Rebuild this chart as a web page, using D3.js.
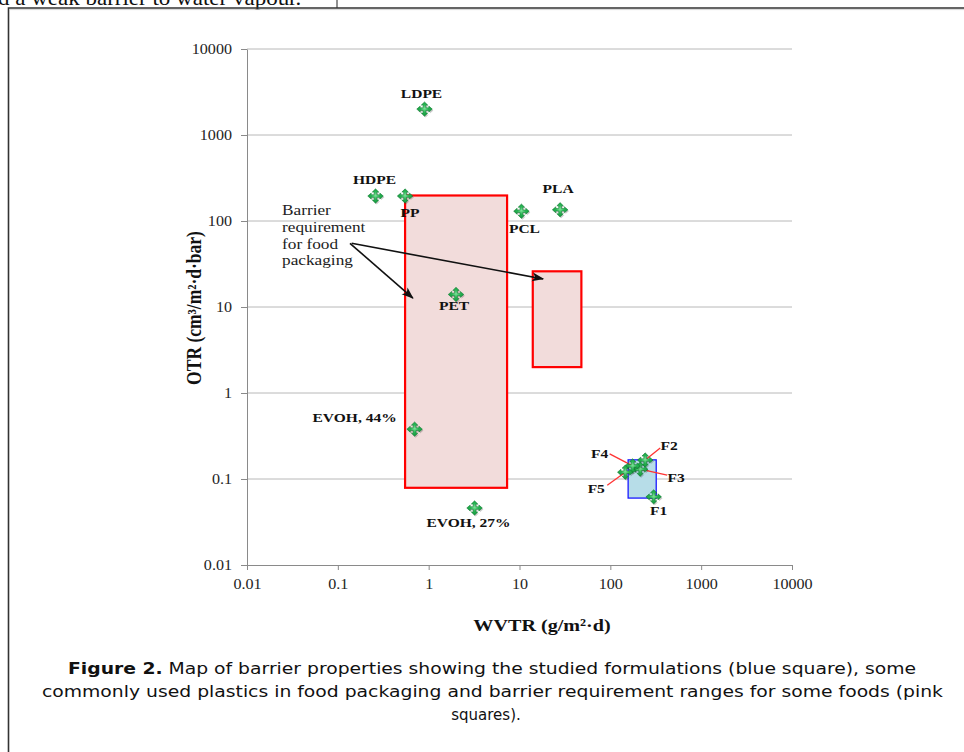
<!DOCTYPE html>
<html>
<head>
<meta charset="utf-8">
<script src="https://cdn.jsdelivr.net/npm/d3@7"></script>
<style>
  html, body { margin: 0; padding: 0; background: #fff; }
  svg { display: block; }
</style>
</head>
<body>
<script>
// ---------- data ----------
const tickValues = [0.01, 0.1, 1, 10, 100, 1000, 10000];
const tickLabels = ["0.01", "0.1", "1", "10", "100", "1000", "10000"];

const materials = ["LDPE", "HDPE", "PP", "PCL", "PLA", "PET", "EVOH, 44%", "EVOH, 27%"];
const materialWVTR = [0.9, 0.26, 0.55, 10.5, 28, 2.0, 0.7, 3.2];
const materialOTR  = [2000, 195, 195, 130, 135, 14, 0.38, 0.046];

const formulations = ["F1", "F2", "F3", "F4", "F5"];
const formWVTR = [300, 242, 213, 176, 146];
const formOTR  = [0.062, 0.166, 0.13, 0.142, 0.12];

// requirement ranges (pink) : [wvtrMin, wvtrMax], [otrMin, otrMax]
const reqNames = ["range A", "range B"];
const reqWVTR = [[0.55, 7.3], [14, 48]];
const reqOTR  = [[0.079, 198], [2.0, 26]];

// studied formulations range (blue)
const formRangeWVTR = [157, 320];
const formRangeOTR  = [0.060, 0.167];

const xTitle = "WVTR (g/m²·d)";
const yTitle = "OTR (cm³/m²·d·bar)";
const noteLines = ["Barrier", "requirement", "for food", "packaging"];
const captionBold = "Figure 2.";
const caption1 = " Map of barrier properties showing the studied formulations (blue square), some";
const caption2 = "commonly used plastics in food packaging and barrier requirement ranges for some foods (pink";
const caption3 = "squares).";
const headerText = "d a weak barrier to water vapour.";

// ---------- layout / style ----------
const W = 964, H = 752;
const SX = 1.15; // horizontal stretch of the original typesetting
const serif = "'Liberation Serif', 'Times New Roman', serif";

// label offsets relative to marker (px): [dx, dy]
const matLabelOff = [[-3, -16], [-1, -17], [5, 16], [3, 17], [-2, -22], [-2, 11], [-60, -12], [-6, 14]];
const formLabelOff = [[5, 13], [24, -15], [36, 8], [-33, -13], [-29, 16]];
// callout line start (relative to label center) for formulations (null = none)
const formLineStart = [null, [-9, 3], [-9, -2], [10, 1], [11, -3]];

// annotation arrow anchors in data units
const noteAnchor = [0.0243, 117];
const arrowFrom = [[0.136, 55], [0.142, 55]];
const arrowTo = [[0.67, 12.7], [18.2, 21.2]];

const svg = d3.select("body").append("svg")
  .attr("width", W).attr("height", H)
  .attr("viewBox", `0 0 ${W} ${H}`);

const x = d3.scaleLog().domain([0.01, 10000]).range([247, 792]);
const y = d3.scaleLog().domain([0.01, 10000]).range([565, 49]);

// defs
const defs = svg.append("defs");
defs.append("marker").attr("id", "arrowBlack")
  .attr("viewBox", "0 -5 12 10").attr("refX", 11).attr("refY", 0)
  .attr("markerWidth", 12).attr("markerHeight", 10).attr("markerUnits", "userSpaceOnUse")
  .attr("orient", "auto")
  .append("path").attr("d", "M0,-4.5 L12,0 L0,4.5 L3,0 Z").attr("fill", "#111");
const grad = defs.append("radialGradient").attr("id", "gGreen").attr("cx", "50%").attr("cy", "45%").attr("r", "60%");
grad.append("stop").attr("offset", "0%").attr("stop-color", "#7fe09a");
grad.append("stop").attr("offset", "45%").attr("stop-color", "#27b553");
grad.append("stop").attr("offset", "100%").attr("stop-color", "#118c38");

// header text (cut off at top, as in the source page) and frame
svg.append("text")
  .attr("transform", `translate(-2,5) scale(${SX},1)`)
  .attr("font-family", serif).attr("font-size", 20).attr("fill", "#111")
  .text(headerText);
svg.append("line").attr("x1", 337).attr("x2", 337).attr("y1", 0).attr("y2", 8)
  .attr("stroke", "#222").attr("stroke-width", 1);
svg.append("path").attr("d", `M8.5,${H} L8.5,8 L${W},8`)
  .attr("fill", "none").attr("stroke", "#333").attr("stroke-width", 1.6);
svg.append("line").attr("x1", 10).attr("x2", W).attr("y1", 9.6).attr("y2", 9.6)
  .attr("stroke", "#ccc").attr("stroke-width", 0.8);

// gridlines
svg.append("g").selectAll("line").data(tickValues.slice(1)).join("line")
  .attr("x1", x(0.01)).attr("x2", x(10000))
  .attr("y1", d => y(d)).attr("y2", d => y(d))
  .attr("stroke", "#b8b8b8").attr("stroke-width", 1);

// axes
const gy = svg.append("g").attr("transform", `translate(${x(0.01)},0)`)
  .call(d3.axisLeft(y).tickValues(tickValues).tickFormat((d, i) => tickLabels[i]).tickSize(6).tickSizeOuter(0));
const gx = svg.append("g").attr("transform", `translate(0,${y(0.01)})`)
  .call(d3.axisBottom(x).tickValues(tickValues).tickFormat((d, i) => tickLabels[i]).tickSize(5).tickSizeOuter(0));
[gy, gx].forEach(g => {
  g.select(".domain").attr("stroke", "#8a8a8a");
  g.selectAll(".tick line").attr("stroke", "#8a8a8a");
  g.selectAll(".tick text").attr("font-family", serif).attr("font-size", 14).attr("fill", "#222");
});
gy.selectAll(".tick text").attr("x", -15 / SX).attr("dy", "0.33em")
  .attr("transform", `scale(${SX},1)`);
gx.selectAll(".tick text").attr("y", 14).attr("dy", "0.71em")
  .attr("transform", `scale(${SX},1)`);

// axis titles
svg.append("text")
  .attr("transform", `translate(542,631) scale(${SX},1)`)
  .attr("text-anchor", "middle").attr("font-family", serif).attr("font-weight", "bold")
  .attr("font-size", 17.5).attr("fill", "#111").text(xTitle);
svg.append("text")
  .attr("transform", `translate(201,308) rotate(-90) scale(1,${SX})`)
  .attr("text-anchor", "middle").attr("font-family", serif).attr("font-weight", "bold")
  .attr("font-size", 17.5).attr("fill", "#111").text(yTitle);

// requirement rectangles (pink)
svg.append("g").selectAll("rect").data(reqNames).join("rect")
  .attr("x", (d, i) => x(reqWVTR[i][0]))
  .attr("y", (d, i) => y(reqOTR[i][1]))
  .attr("width", (d, i) => x(reqWVTR[i][1]) - x(reqWVTR[i][0]))
  .attr("height", (d, i) => y(reqOTR[i][0]) - y(reqOTR[i][1]))
  .attr("fill", "#f2dcdb").attr("stroke", "#ff0000").attr("stroke-width", 2.2);

// formulations range (blue)
svg.append("rect")
  .attr("x", x(formRangeWVTR[0])).attr("y", y(formRangeOTR[1]))
  .attr("width", x(formRangeWVTR[1]) - x(formRangeWVTR[0]))
  .attr("height", y(formRangeOTR[0]) - y(formRangeOTR[1]))
  .attr("fill", "#b7dde8").attr("stroke", "#1a1aff").attr("stroke-width", 1.3);

// marker glyph: four-way arrow cross
const R = 7.2, HB = 4.0, HW = 3.0, SW = 1.3;
const arm = [[0, -R], [HW, -HB], [SW, -HB], [SW, -SW]];
function rot(p, k) { // rotate by k*90deg clockwise
  let [a, b] = p;
  for (let j = 0; j < k; j++) { [a, b] = [-b, a]; }
  return [a, b];
}
const pts = [];
for (let k = 0; k < 4; k++) arm.forEach(p => pts.push(rot(p, k)));
// fill in mirrored points to close each arm
const full = [];
for (let k = 0; k < 4; k++) {
  const seq = [[0, -R], [HW, -HB], [SW, -HB], [SW, -SW], [HB, -SW], [HB, -HW]];
  seq.forEach(p => full.push(rot(p, k)));
}
const arrowCross = "M" + full.map(p => p[0].toFixed(2) + "," + p[1].toFixed(2)).join(" L") + " Z";

function drawMarkers(g, xs, ys) {
  const m = g.selectAll("g.mk").data(xs).join("g").attr("class", "mk")
    .attr("transform", (d, i) => `translate(${x(xs[i])},${y(ys[i])}) scale(1.08,1)`);
  m.append("path").attr("d", arrowCross).attr("transform", "translate(1,1.3)")
    .attr("fill", "#000").attr("opacity", 0.2);
  m.append("path").attr("d", arrowCross)
    .attr("fill", "url(#gGreen)").attr("stroke", "#0d7a2f").attr("stroke-width", 0.5)
    .attr("stroke-linejoin", "round");
}

// formulation callout lines (under markers)
const fl = svg.append("g");
formulations.forEach((f, i) => {
  if (!formLineStart[i]) return;
  const px = x(formWVTR[i]), py = y(formOTR[i]);
  const lx = px + formLabelOff[i][0] + formLineStart[i][0];
  const ly = py + formLabelOff[i][1] + formLineStart[i][1];
  fl.append("line").attr("x1", lx).attr("y1", ly).attr("x2", px).attr("y2", py)
    .attr("stroke", "#ff3333").attr("stroke-width", 1.3);
});

drawMarkers(svg.append("g"), materialWVTR, materialOTR);
drawMarkers(svg.append("g"), formWVTR, formOTR);

// labels
function label(txt, cx, cy, size) {
  svg.append("text")
    .attr("transform", `translate(${cx},${cy}) scale(${SX},1)`)
    .attr("text-anchor", "middle").attr("dy", "0.35em")
    .attr("font-family", serif).attr("font-weight", "bold")
    .attr("font-size", size).attr("fill", "#111").text(txt);
}
materials.forEach((m, i) => label(m, x(materialWVTR[i]) + matLabelOff[i][0], y(materialOTR[i]) + matLabelOff[i][1], 13.5));
formulations.forEach((f, i) => label(f, x(formWVTR[i]) + formLabelOff[i][0], y(formOTR[i]) + formLabelOff[i][1], 13.5));

// annotation
const note = svg.append("text")
  .attr("transform", `translate(${x(noteAnchor[0])},${y(noteAnchor[1])}) scale(${SX},1)`)
  .attr("font-family", serif).attr("font-size", 15).attr("fill", "#222");
noteLines.forEach((t, i) => note.append("tspan").attr("x", 0).attr("y", i * 16.7).text(t));
arrowFrom.forEach((a, i) => {
  svg.append("line")
    .attr("x1", x(a[0])).attr("y1", y(a[1]))
    .attr("x2", x(arrowTo[i][0])).attr("y2", y(arrowTo[i][1]))
    .attr("stroke", "#111").attr("stroke-width", 1.6)
    .attr("marker-end", "url(#arrowBlack)");
});

// caption
const sans = "'DejaVu Sans', Verdana, sans-serif";
const c1 = svg.append("text").attr("x", 68).attr("y", 674)
  .attr("font-family", sans).attr("font-size", 15).attr("fill", "#111")
  .attr("textLength", 848).attr("lengthAdjust", "spacingAndGlyphs");
c1.append("tspan").attr("font-weight", "bold").text(captionBold);
c1.append("tspan").text(caption1);
svg.append("text").attr("x", 42).attr("y", 697)
  .attr("font-family", sans).attr("font-size", 15).attr("fill", "#111")
  .attr("textLength", 901).attr("lengthAdjust", "spacingAndGlyphs").text(caption2);
svg.append("text").attr("x", 486).attr("y", 720).attr("text-anchor", "middle")
  .attr("font-family", sans).attr("font-size", 15).attr("fill", "#111")
  .text(caption3);
</script>
</body>
</html>
